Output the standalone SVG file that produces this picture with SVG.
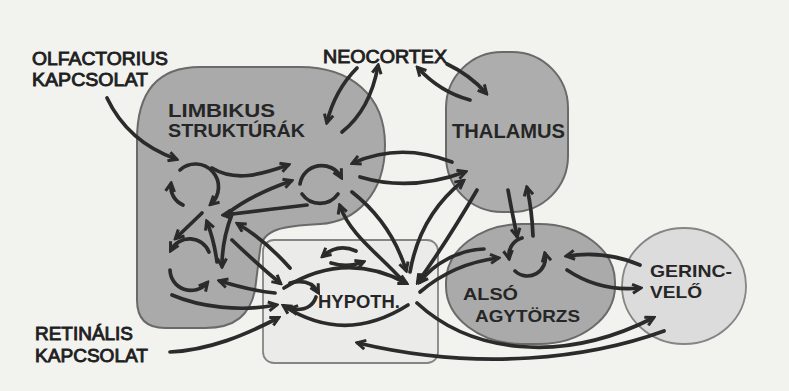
<svg xmlns="http://www.w3.org/2000/svg" width="789" height="391" viewBox="0 0 789 391">
<style>
.bg{fill:#f2f2ef}
.dark{fill:#aaaaaa;stroke:#6a6a6a;stroke-width:2}
.light{fill:#dcdcdc;stroke:#858585;stroke-width:1.8}
.pale{fill:#ebebea;stroke:#858585;stroke-width:1.8}
.lbl{font-family:"Liberation Sans",Arial,sans-serif;font-weight:bold;fill:#262626}
.out{font-family:"Liberation Sans",Arial,sans-serif;font-weight:normal;fill:#1f1f1f;stroke:#1f1f1f;stroke-width:0.9}
.c path{fill:none;stroke:#2b2b2b;stroke-width:3.7;stroke-linecap:round}
.c .h{marker-end:url(#ah)}
</style>
<defs>
<marker id="ah" viewBox="0 0 12 12" refX="9" refY="6" markerWidth="12" markerHeight="12" markerUnits="userSpaceOnUse" orient="auto">
<path d="M1.5,1.5 L10,6 L1.5,10.5" fill="none" stroke="#2b2b2b" stroke-width="3" stroke-linejoin="miter"/>
</marker>
</defs>
<rect class="bg" x="0" y="0" width="789" height="391"/>

<g id="limbikus">
<path class="dark" d="M137,300 L137,140 C137,95 155,67 200,67 L300,67 C350,67 385,95 385,145 C385,195 355,222 320,224 C285,226 262,228 260,250 L255,290 C250,315 235,328 205,328 L165,328 Q137,328 137,300 Z"/>
<text class="lbl" x="168" y="117" font-size="19" textLength="107" lengthAdjust="spacingAndGlyphs">LIMBIKUS</text>
<text class="lbl" x="168" y="137" font-size="19" textLength="137" lengthAdjust="spacingAndGlyphs">STRUKTÚRÁK</text>
</g>

<g id="thalamus">
<rect class="dark" x="446" y="52" width="122" height="160" rx="56" ry="56" style="fill:#adadad"/>
<text class="lbl" x="452" y="138" font-size="20" textLength="113" lengthAdjust="spacingAndGlyphs">THALAMUS</text>
</g>

<g id="hypothalamus">
<rect class="pale" x="263" y="240" width="175" height="123" rx="11" ry="11"/>
<text class="lbl" x="318" y="308" font-size="19" textLength="82" lengthAdjust="spacingAndGlyphs">HYPOTH.</text>
</g>

<g id="also-agytorzs">
<rect class="dark" x="446" y="224" width="169" height="120" rx="76" ry="58"/>
<text class="lbl" x="463" y="300" font-size="17" textLength="55" lengthAdjust="spacingAndGlyphs">ALSÓ</text>
<text class="lbl" x="475" y="322" font-size="17" textLength="105" lengthAdjust="spacingAndGlyphs">AGYTÖRZS</text>
</g>

<g id="gerincvelo">
<ellipse class="light" cx="684" cy="286" rx="62" ry="58"/>
<text class="lbl" x="650" y="277" font-size="17" textLength="82" lengthAdjust="spacingAndGlyphs">GERINC-</text>
<text class="lbl" x="650" y="298" font-size="17" textLength="52" lengthAdjust="spacingAndGlyphs">VELŐ</text>
</g>

<g id="olfactorius">
<text class="out" x="32" y="65" font-size="18" textLength="136" lengthAdjust="spacingAndGlyphs">OLFACTORIUS</text>
<text class="out" x="32" y="86" font-size="18" textLength="116" lengthAdjust="spacingAndGlyphs">KAPCSOLAT</text>
</g>

<g id="neocortex">
<text class="out" x="323" y="63" font-size="18" textLength="124" lengthAdjust="spacingAndGlyphs">NEOCORTEX</text>
</g>

<g id="retinalis">
<text class="out" x="35" y="340" font-size="18" textLength="98" lengthAdjust="spacingAndGlyphs">RETINÁLIS</text>
<text class="out" x="35" y="362" font-size="18" textLength="113" lengthAdjust="spacingAndGlyphs">KAPCSOLAT</text>
</g>

<g id="connectors" class="c">
<path class="h" d="M107,98 Q128,142 176,159"/>
<path class="h" d="M170,352 C210,350 245,335 278,318"/>
<path class="h" d="M357,68 Q335,90 327,122"/>
<path class="h" d="M342,132 Q370,110 378,66"/>
<path class="h" d="M447,64 Q470,75 486,93"/>
<path class="h" d="M470,100 Q440,92 418,68"/>
<path class="h" d="M452,162 Q400,142 353,163"/>
<path class="h" d="M360,177 Q410,192 465,172"/>
<path class="h" d="M410,272 Q420,215 463,181"/>
<path class="h" d="M477,190 Q448,240 418,282"/>
<path class="h" d="M508,190 Q512,212 517,236"/>
<path class="h" d="M533,236 Q532,210 527,188"/>
<path class="h" d="M484,249 C460,250 435,262 420,282"/>
<path class="h" d="M420,292 C440,275 465,262 498,258"/>
<path class="h" d="M640,265 Q605,250 567,256"/>
<path class="h" d="M567,270 Q600,292 640,288"/>
<path class="h" d="M417,303 C470,352 560,365 653,318"/>
<path class="h" d="M664,331 C590,358 480,372 358,343"/>
<path class="h" d="M402,280 C380,255 350,235 340,206"/>
<path class="h" d="M352,192 C375,210 395,235 406,270"/>
<path class="h" d="M212,168 C235,182 260,175 288,165"/>
<path class="h" d="M228,213 C245,200 265,190 291,181"/>
<path class="h" d="M307,205 C280,208 250,212 224,215"/>
<path class="h" d="M202,213 L176,238"/>
<path class="h" d="M217,262 Q214,240 207,222"/>
<path class="h" d="M232,214 Q222,240 222,266"/>
<path class="h" d="M183,205 A20,20 0 0 1 171,184"/>
<path class="h" d="M180,170 A20,20 0 1 1 211,204"/>
<path class="h" d="M300,184 A22,22 0 0 1 341,177"/>
<path d="M338,194 A22,22 0 0 1 302,194"/>
<path class="h" d="M209,252 A21,21 0 0 0 171,250"/>
<path class="h" d="M170,270 A21,21 0 0 0 207,283"/>
<path class="h" d="M290,268 Q265,240 238,224"/>
<path class="h" d="M232,240 Q255,262 280,283"/>
<path class="h" d="M275,293 C255,291 236,286 220,281"/>
<path class="h" d="M172,295 C200,307 240,312 276,305"/>
<path class="h" d="M284,288 Q345,250 406,283"/>
<path class="h" d="M408,305 Q345,345 284,306"/>
<path class="h" d="M356,251 Q338,243 323,256"/>
<path class="h" d="M331,263 Q348,268 363,262"/>
<path class="h" d="M290,283 Q310,278 318,292"/>
<path class="h" d="M316,297 Q311,312 290,309"/>
<path class="h" d="M522,238 A18,18 0 0 0 509,258"/>
<path class="h" d="M515,271 A18,18 0 0 0 545,254"/>
</g>
</svg>
